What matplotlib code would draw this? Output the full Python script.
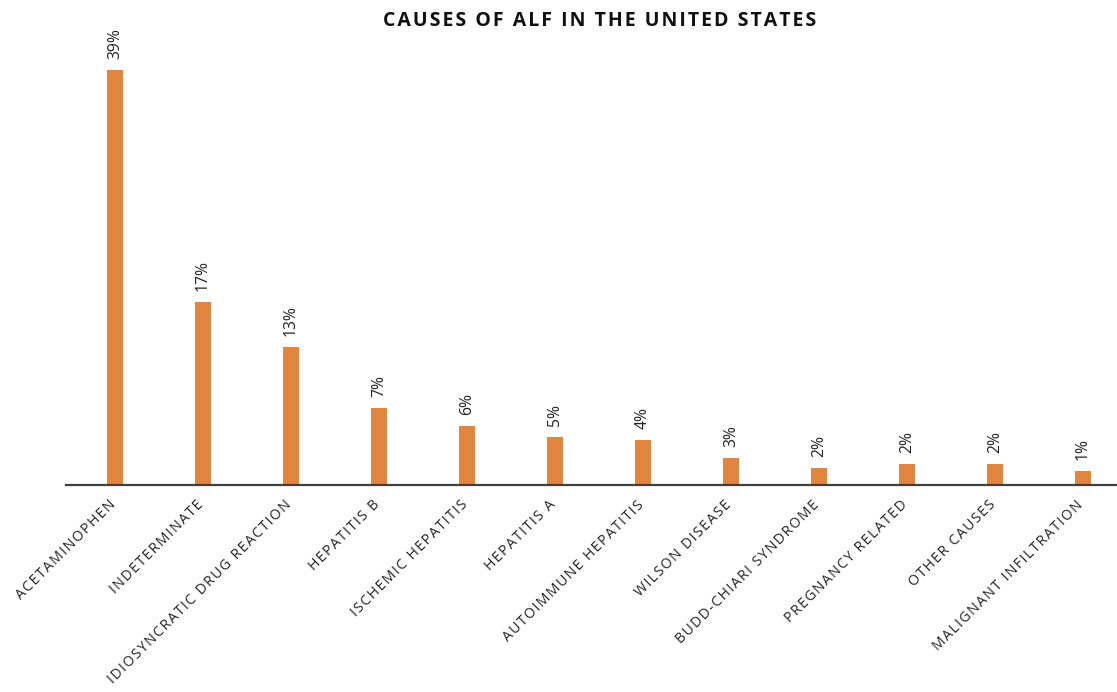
import matplotlib.pyplot as plt
import matplotlib.transforms as mtransforms
import numpy as np

# causes of acute liver failure, share of cases (bar heights)
causes = ["ACETAMINOPHEN", "INDETERMINATE", "IDIOSYNCRATIC DRUG REACTION",
          "HEPATITIS B", "ISCHEMIC HEPATITIS", "HEPATITIS A",
          "AUTOIMMUNE HEPATITIS", "WILSON DISEASE", "BUDD-CHIARI SYNDROME",
          "PREGNANCY RELATED", "OTHER CAUSES", "MALIGNANT INFILTRATION"]
heights = [39.0, 17.25, 13.0, 7.2, 5.55, 4.55, 4.23, 2.57, 1.63, 1.94, 1.94, 1.32]
labels = ["39%", "17%", "13%", "7%", "6%", "5%", "4%", "3%", "2%", "2%", "2%", "1%"]
title = "CAUSES OF ALF IN THE UNITED STATES"

bar_color = "#E2863F"
fonts = ["Open Sans", "DejaVu Sans"]


def spaced(s):
    # rough letter spacing, the original text is tracked out
    return "\u200a".join(s)


fig = plt.figure(figsize=(11.17, 6.92), dpi=100)
W, H = 1117, 692
ax = fig.add_axes([66 / W, (H - 485) / H, (1117 - 66) / W, (485 - 30) / H])

x = np.arange(len(causes))
ax.bar(x, heights, width=0.19, color=bar_color, zorder=2)

for xi, h, lab in zip(x, heights, labels):
    ax.annotate(lab, (xi, h), xytext=(0, 8), textcoords="offset points",
                rotation=90, ha="center", va="bottom", fontsize=11.3,
                family=fonts, color="#222222")

ax.set_xlim(-0.557, 11.386)
ax.set_ylim(0, 42.8)

for s in ["top", "right", "left"]:
    ax.spines[s].set_visible(False)
ax.spines["bottom"].set_color("#404040")
ax.spines["bottom"].set_linewidth(1.6)
ax.set_yticks([])
ax.set_xticks(x)
ax.set_xticklabels([spaced(c) for c in causes], rotation=45, ha="right",
                   va="top", rotation_mode="anchor", fontsize=10.2,
                   family=fonts, color="#222222")
ax.tick_params(axis="x", length=0, pad=9)
shift = mtransforms.ScaledTranslation(-7 / 100, 0, fig.dpi_scale_trans)
for t in ax.get_xticklabels():
    t.set_transform(t.get_transform() + shift)

fig.text(600 / W, 1 - 21 / H, spaced(title),
         ha="center", va="center", fontsize=14.0, fontweight="bold",
         family=fonts, color="#111111")

fig.savefig("out.png", dpi=100)
